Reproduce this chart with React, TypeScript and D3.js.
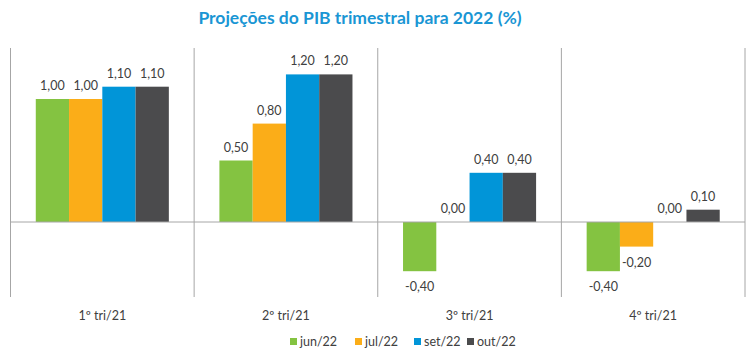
import React from "react";
import * as d3 from "d3";

const categories = ["1º tri/21", "2º tri/21", "3º tri/21", "4º tri/21"];
const seriesNames = ["jun/22", "jul/22", "set/22", "out/22"];
const jun22 = [1.0, 0.5, -0.4, -0.4];
const jul22 = [1.0, 0.8, 0.0, -0.2];
const set22 = [1.1, 1.2, 0.4, 0.0];
const out22 = [1.1, 1.2, 0.4, 0.1];
const seriesValues = [jun22, jul22, set22, out22];
const colors = ["#84c341", "#fbad18", "#0195d8", "#4b4b4d"];
const yDomain = [-0.6, 1.4];

const W = 750;
const H = 355;
const FONT = "Lato, 'Open Sans', sans-serif";

export default function App() {
  const left = 10.5, right = 745, top = 49.8, bottom = 295.8;
  const x0 = d3.scaleBand<string>().domain(categories).range([left, right]).paddingInner(0).paddingOuter(0);
  const x1 = d3.scaleBand<string>().domain(seriesNames).range([0, x0.bandwidth()]).paddingOuter(0.76).paddingInner(0);
  const y = d3.scaleLinear().domain(yDomain).range([bottom, top]);
  const fmt = (v: number) => v.toFixed(2).replace(".", ",");
  const zero = y(0);
  const legendX = [290, 355, 414, 467];

  return (
    <svg width={W} height={H} style={{ position: "absolute", left: 0, top: 0, fontFamily: FONT }}>
      <rect width={W} height={H} fill="#fff" />
      <text x={360} y={24} textAnchor="middle" fontSize={17.5} fontWeight="bold" fill="#1a96d4">
        Projeções do PIB trimestral para 2022 (%)
      </text>
      {seriesValues.map((vals, si) =>
        vals.map((v, ci) => {
          const bx = (x0(categories[ci]) as number) + (x1(seriesNames[si]) as number);
          const bw = x1.bandwidth();
          const yt = Math.min(y(v), zero);
          const h = Math.abs(y(v) - zero);
          return <rect key={`b${si}-${ci}`} x={bx} y={yt} width={bw} height={h} fill={colors[si]} />;
        })
      )}
      {categories.map((c, i) => (
        <line key={`s${i}`} x1={x0(c)} x2={x0(c)} y1={48} y2={297} stroke="#a6a6a6" strokeWidth={1} />
      ))}
      <line x1={right} x2={right} y1={48} y2={297} stroke="#a6a6a6" strokeWidth={1} />
      <line x1={left} x2={right} y1={zero} y2={zero} stroke="#a6a6a6" strokeWidth={1} />
      {seriesValues.map((vals, si) =>
        vals.map((v, ci) => {
          const cx = (x0(categories[ci]) as number) + (x1(seriesNames[si]) as number) + x1.bandwidth() / 2;
          const ty = v >= 0 ? y(v) - 9 : y(v) + 20;
          return (
            <text key={`l${si}-${ci}`} x={cx} y={ty} textAnchor="middle" fontSize={12.5} fill="#404040">
              {fmt(v)}
            </text>
          );
        })
      )}
      {categories.map((c) => (
        <text key={`c${c}`} x={(x0(c) as number) + x0.bandwidth() / 2} y={320} textAnchor="middle" fontSize={12.5} fill="#404040">
          {c}
        </text>
      ))}
      {seriesNames.map((s, i) => (
        <g key={`lg${s}`}>
          <rect x={legendX[i]} y={338} width={7} height={7} fill={colors[i]} />
          <text x={legendX[i] + 10} y={346} fontSize={12.5} fill="#404040">{s}</text>
        </g>
      ))}
    </svg>
  );
}
